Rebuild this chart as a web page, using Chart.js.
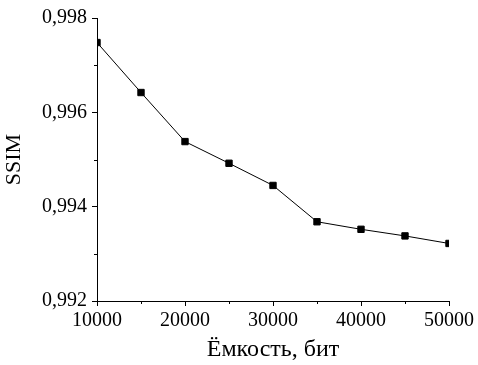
<!DOCTYPE html>
<html lang="ru">
<head>
    <meta charset="UTF-8">
    <title>SSIM</title>
    <script src="https://cdn.jsdelivr.net/npm/chart.js"></script>
    <style>
        html, body { margin: 0; padding: 0; background: #fff; }
        #wrap { width: 478px; height: 365px; }
    </style>
</head>
<body>
    <div id="wrap"><canvas id="ssimChart" width="478" height="365"></canvas></div>

    <script>
        // data
        const capacity = [10000, 15000, 20000, 25000, 30000, 35000, 40000, 45000, 50000];
        const ssim = [0.99748, 0.99642, 0.99538, 0.99492, 0.99445, 0.99368, 0.99352, 0.99338, 0.99322];

        const xTitle = 'Ёмкость, бит';
        const yTitle = 'SSIM';

        const serif = "'Liberation Serif', 'Times New Roman', serif";

        function isMajorX(v) { return Math.round(v) % 10000 === 0; }
        function isMajorY(v) { return Math.round(v * 1000) % 2 === 0; }

        // short minor ticks (chart.js has only one tick length)
        const minorTicks = {
            id: 'minorTicks',
            afterDraw(chart) {
                const ctx = chart.ctx;
                const xs = chart.scales.x, ys = chart.scales.y;
                ctx.save();
                ctx.strokeStyle = '#000';
                ctx.lineWidth = 1;
                ctx.beginPath();
                xs.ticks.forEach(t => {
                    if (isMajorX(t.value)) return;
                    const px = Math.round(xs.getPixelForValue(t.value)) + 0.5;
                    ctx.moveTo(px, ys.bottom);
                    ctx.lineTo(px, ys.bottom + 3);
                });
                ys.ticks.forEach(t => {
                    if (isMajorY(t.value)) return;
                    const py = Math.round(ys.getPixelForValue(t.value)) + 0.5;
                    ctx.moveTo(xs.left, py);
                    ctx.lineTo(xs.left - 3, py);
                });
                ctx.stroke();
                ctx.restore();
            }
        };

        const ctx = document.getElementById('ssimChart').getContext('2d');
        new Chart(ctx, {
            type: 'line',
            data: {
                datasets: [{
                    data: capacity.map((c, i) => ({ x: c, y: ssim[i] })),
                    borderColor: '#000',
                    borderWidth: 1,
                    backgroundColor: '#000',
                    pointStyle: 'rect',
                    pointRadius: 4.5,
                    pointBorderWidth: 1,
                    pointBorderColor: '#000',
                    pointBackgroundColor: '#000',
                    tension: 0
                }]
            },
            options: {
                responsive: false,
                animation: false,
                layout: { padding: { top: 18, right: 29, left: 0, bottom: 0 } },
                plugins: {
                    legend: { display: false },
                    tooltip: { enabled: false }
                },
                scales: {
                    x: {
                        type: 'linear',
                        min: 10000,
                        max: 50000,
                        afterFit: s => { s.height = 64; },
                        border: { display: true, color: '#000', width: 1 },
                        grid: {
                            drawOnChartArea: false,
                            drawTicks: true,
                            tickLength: 5,
                            tickColor: c => (c.tick && isMajorX(c.tick.value)) ? '#000' : 'rgba(0,0,0,0)'
                        },
                        ticks: {
                            stepSize: 5000,
                            autoSkip: false,
                            maxRotation: 0,
                            padding: 3,
                            color: '#000',
                            font: { family: serif, size: 20 },
                            callback: v => isMajorX(v) ? String(Math.round(v)) : ''
                        },
                        title: {
                            display: true,
                            text: xTitle,
                            color: '#000',
                            font: { family: serif, size: 24 },
                            padding: { top: 0, bottom: 1 }
                        }
                    },
                    y: {
                        min: 0.992,
                        max: 0.998,
                        afterFit: s => { s.width = 97; },
                        border: { display: true, color: '#000', width: 1 },
                        grid: {
                            drawOnChartArea: false,
                            drawTicks: true,
                            tickLength: 5,
                            tickColor: c => (c.tick && isMajorY(c.tick.value)) ? '#000' : 'rgba(0,0,0,0)'
                        },
                        ticks: {
                            stepSize: 0.001,
                            autoSkip: false,
                            padding: 5,
                            color: '#000',
                            font: { family: serif, size: 20 },
                            callback: v => isMajorY(v) ? v.toFixed(3).replace('.', ',') : ''
                        },
                        title: {
                            display: true,
                            text: yTitle,
                            color: '#000',
                            font: { family: serif, size: 22 },
                            padding: { top: 1, bottom: 0 }
                        }
                    }
                }
            },
            plugins: [minorTicks]
        });
    </script>
</body>
</html>
